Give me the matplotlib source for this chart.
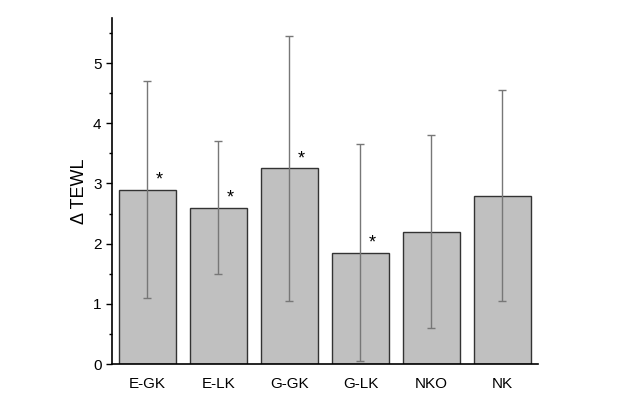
import matplotlib
matplotlib.use("Agg")
import matplotlib.pyplot as plt
from matplotlib.ticker import MultipleLocator

plt.rcParams['font.family'] = ['Liberation Sans', 'DejaVu Sans']

groups = ['E-GK', 'E-LK', 'G-GK', 'G-LK', 'NKO', 'NK']
means = [2.9, 2.6, 3.25, 1.85, 2.2, 2.8]
errors = [1.8, 1.1, 2.2, 1.8, 1.6, 1.75]
marked = [True, True, True, True, False, False]

fig = plt.figure(figsize=(6.24, 3.96), dpi=100)
ax = fig.add_axes([0.1795, 0.0808, 0.6825, 0.8737])

x = list(range(len(groups)))
ax.bar(x, means, width=0.8, color='#c0c0c0', edgecolor='#333333', linewidth=1.0, zorder=2)
ax.errorbar(x, means, yerr=errors, fmt='none', ecolor='#777777', elinewidth=1.0,
            capsize=3, capthick=1.0, zorder=3)

# asterisks for significant groups
for xi, m, flag in zip(x, means, marked):
    if flag:
        ax.text(xi + 0.16, m + 0.02, '*', ha='center', va='bottom', fontsize=13)

ax.set_xlim(-0.5, 5.5)
ax.set_ylim(0, 5.75)
ax.set_xticks(x)
ax.set_xticklabels(groups, fontsize=11)
ax.yaxis.set_major_locator(MultipleLocator(1))
ax.yaxis.set_minor_locator(MultipleLocator(0.5))
ax.tick_params(axis='y', which='major', length=4, width=1, labelsize=11)
ax.tick_params(axis='y', which='minor', length=2.5, width=1)
ax.tick_params(axis='x', length=0, pad=9)
ax.set_ylabel('\u0394 TEWL', fontsize=13, labelpad=4)

ax.spines['top'].set_visible(False)
ax.spines['right'].set_visible(False)
ax.spines['left'].set_linewidth(1.2)
ax.spines['bottom'].set_linewidth(1.2)

fig.savefig('out.png', dpi=100)
